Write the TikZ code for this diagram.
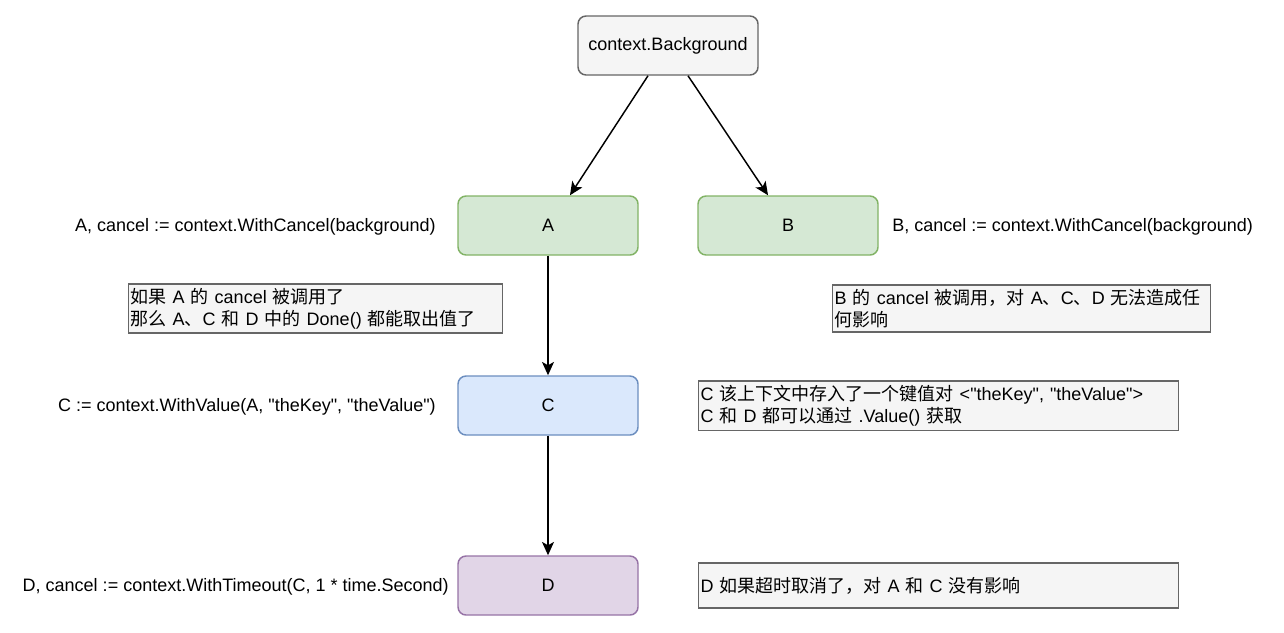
\documentclass[tikz,border=0pt]{standalone}
\usepackage{fontspec}
\setmainfont{Liberation Sans}
\newfontfamily\zhfont{Noto Sans CJK SC}
\newcommand{\zh}[1]{{\zhfont #1}}
\newcommand{\q}[1]{\textquotedbl#1\textquotedbl}
\usetikzlibrary{calc,arrows.meta}

\definecolor{bgfill}{HTML}{F5F5F5}
\definecolor{bgline}{HTML}{666666}
\definecolor{greenfill}{HTML}{D5E8D4}
\definecolor{greenline}{HTML}{82B366}
\definecolor{bluefill}{HTML}{DAE8FC}
\definecolor{blueline}{HTML}{6C8EBF}
\definecolor{purplefill}{HTML}{E1D5E7}
\definecolor{purpleline}{HTML}{9673A6}

\begin{document}
\begin{tikzpicture}[x=0.75pt,y=-0.75pt,
  every node/.style={font=\fontsize{13.5pt}{16.2pt}\selectfont},
  ctx/.style={draw=#1line,fill=#1fill,line width=1.1pt,rounded corners=6pt,
    minimum width=135pt,minimum height=44.25pt},
  note/.style={draw=bgline,fill=bgfill,line width=1.1pt,anchor=west,align=left,
    inner xsep=1.5pt,text width=#1-3pt,minimum width=#1,minimum height=33.75pt},
  lbl/.style={anchor=#1,inner sep=0pt},
  arr/.style={-{Stealth[length=10pt,width=9pt,inset=2.5pt]},line width=1.1pt}]
  \useasboundingbox (0,0) rectangle (1284,632);

  \node[ctx=bg] (bg) at (668,45.5) {context.Background};
  \node[ctx=green] (a) at (548,225.5) {A};
  \node[ctx=green] (b) at (788,225.5) {B};
  \node[ctx=blue] (c) at (548,405.5) {C};
  \node[ctx=purple] (d) at (548,585.5) {D};

  \draw[arr] ($(bg.south)+(-20,0)$) -- ($(a.north)+(22,0)$);
  \draw[arr] ($(bg.south)+(20,0)$) -- ($(b.north)+(-20,0)$);
  \draw[arr] (a) -- (c);
  \draw[arr] (c) -- (d);

  \node[lbl=east] (alabel) at (436,227) {A, cancel := context.WithCancel(background)};
  \node[lbl=west] (blabel) at (892,227) {B, cancel := context.WithCancel(background)};
  \node[lbl=east] (clabel) at (436,407) {C := context.WithValue(A, \q{theKey}, \q{theValue})};
  \node[lbl=east] (dlabel) at (449,587) {D, cancel := context.WithTimeout(C, 1 * time.Second)};

  \node[note=280.5pt] (anote) at (128,308.5)
    {\zh{如果} A \zh{的} cancel \zh{被调用了}\\\zh{那么} A\zh{、}C \zh{和} D \zh{中的} Done() \zh{都能取出值了}};
  \node[note=283.5pt] (bnote) at (832,308.5)
    {B \zh{的} cancel \zh{被调用，对} A\zh{、}C\zh{、}D \zh{无法造成任}\\\zh{何影响}};
  \node[note=360pt] (cnote) at (698,405.5)
    {C \zh{该上下文中存入了一个键值对} <\q{theKey}, \q{theValue}>\\C \zh{和} D \zh{都可以通过} .Value() \zh{获取}};
  \node[note=360pt] (dnote) at (698,585.5)
    {D \zh{如果超时取消了，对} A \zh{和} C \zh{没有影响}};
\end{tikzpicture}
\end{document}
